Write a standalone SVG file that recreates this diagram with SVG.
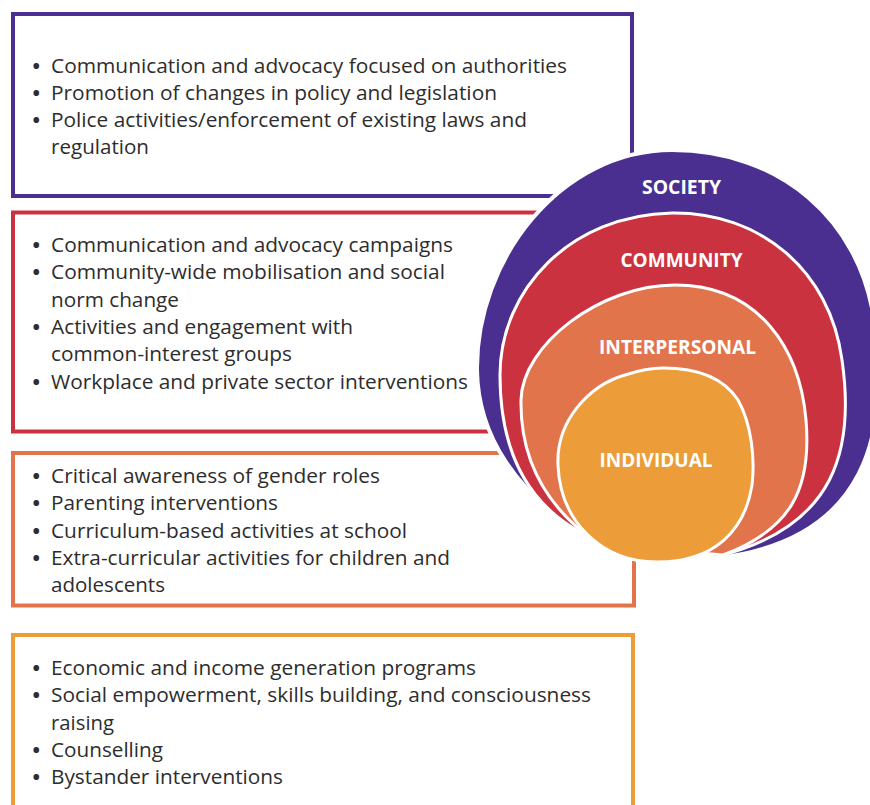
<svg xmlns="http://www.w3.org/2000/svg" width="870" height="805" viewBox="0 0 870 805">
  <style>
    .box { fill: none; stroke-width: 4; }
    .item { font-family: "Open Sans", "Noto Sans", "Liberation Sans", sans-serif; font-size: 20px; fill: #2d2d2d; }
    .dot { font-weight: 700; }
    .lvl { font-family: "Open Sans", "Noto Sans", "Liberation Sans", sans-serif; font-size: 19px; font-weight: 700; fill: #ffffff; text-anchor: middle; }
    .ring { stroke: #ffffff; stroke-width: 3; stroke-linejoin: round; }
  </style>
  <rect width="870" height="805" fill="#ffffff"/>

  <!-- intervention boxes -->
  <g id="box-society">
    <rect class="box" x="13" y="14" width="619" height="182" stroke="#4a2f91"/>
    <text class="item" y="73"><tspan class="dot" x="32.5">•</tspan><tspan x="51" textLength="516" lengthAdjust="spacingAndGlyphs">Communication and advocacy focused on authorities</tspan></text>
    <text class="item" y="100"><tspan class="dot" x="32.5">•</tspan><tspan x="51" textLength="446" lengthAdjust="spacingAndGlyphs">Promotion of changes in policy and legislation</tspan></text>
    <text class="item" y="127"><tspan class="dot" x="32.5">•</tspan><tspan x="51" textLength="476" lengthAdjust="spacingAndGlyphs">Police activities/enforcement of existing laws and</tspan><tspan x="51" y="154" textLength="98" lengthAdjust="spacingAndGlyphs">regulation</tspan></text>
  </g>

  <g id="box-community">
    <rect class="box" x="13" y="212.5" width="619" height="219" stroke="#ca3240"/>
    <text class="item" y="252"><tspan class="dot" x="32.5">•</tspan><tspan x="51" textLength="402" lengthAdjust="spacingAndGlyphs">Communication and advocacy campaigns</tspan></text>
    <text class="item" y="279"><tspan class="dot" x="32.5">•</tspan><tspan x="51" textLength="394" lengthAdjust="spacingAndGlyphs">Community-wide mobilisation and social</tspan><tspan x="51" y="307" textLength="128" lengthAdjust="spacingAndGlyphs">norm change</tspan></text>
    <text class="item" y="334"><tspan class="dot" x="32.5">•</tspan><tspan x="51" textLength="302" lengthAdjust="spacingAndGlyphs">Activities and engagement with</tspan><tspan x="51" y="361" textLength="241" lengthAdjust="spacingAndGlyphs">common-interest groups</tspan></text>
    <text class="item" y="389"><tspan class="dot" x="32.5">•</tspan><tspan x="51" textLength="417" lengthAdjust="spacingAndGlyphs">Workplace and private sector interventions</tspan></text>
  </g>

  <g id="box-interpersonal">
    <rect class="box" x="13" y="453" width="621" height="152.5" stroke="#e2744b"/>
    <text class="item" y="483"><tspan class="dot" x="32.5">•</tspan><tspan x="51" textLength="329" lengthAdjust="spacingAndGlyphs">Critical awareness of gender roles</tspan></text>
    <text class="item" y="510"><tspan class="dot" x="32.5">•</tspan><tspan x="51" textLength="227" lengthAdjust="spacingAndGlyphs">Parenting interventions</tspan></text>
    <text class="item" y="538"><tspan class="dot" x="32.5">•</tspan><tspan x="51" textLength="356" lengthAdjust="spacingAndGlyphs">Curriculum-based activities at school</tspan></text>
    <text class="item" y="565"><tspan class="dot" x="32.5">•</tspan><tspan x="51" textLength="399" lengthAdjust="spacingAndGlyphs">Extra-curricular activities for children and</tspan><tspan x="51" y="592" textLength="114" lengthAdjust="spacingAndGlyphs">adolescents</tspan></text>
  </g>

  <g id="box-individual">
    <rect class="box" x="13" y="635" width="620" height="200" stroke="#ec9c39"/>
    <text class="item" y="675"><tspan class="dot" x="32.5">•</tspan><tspan x="51" textLength="425" lengthAdjust="spacingAndGlyphs">Economic and income generation programs</tspan></text>
    <text class="item" y="702"><tspan class="dot" x="32.5">•</tspan><tspan x="51" textLength="540" lengthAdjust="spacingAndGlyphs">Social empowerment, skills building, and consciousness</tspan><tspan x="51" y="730" textLength="63" lengthAdjust="spacingAndGlyphs">raising</tspan></text>
    <text class="item" y="757"><tspan class="dot" x="32.5">•</tspan><tspan x="51" textLength="112" lengthAdjust="spacingAndGlyphs">Counselling</tspan></text>
    <text class="item" y="784"><tspan class="dot" x="32.5">•</tspan><tspan x="51" textLength="232" lengthAdjust="spacingAndGlyphs">Bystander interventions</tspan></text>
  </g>

  <!-- nested levels of the ecological model -->
  <g id="level-society">
    <path d="M 572,529 C 520,490 478,440 477,370 C 476,260 560,150 672,150 C 780,150 860,220 874,320 C 890,430 870,540 717,558 Q 650,545 572,529 Z" fill="#4a2f91" stroke="#ffffff" stroke-width="4"/>
    <text class="lvl" x="681.5" y="194" textLength="79" lengthAdjust="spacingAndGlyphs">SOCIETY</text>
  </g>
  <g id="level-community">
    <path class="ring" d="M 582,533 C 520,500 500,440 500,375 C 500,290 570,215 672,213 C 760,212 830,270 842,360 C 855,450 835,525 723,555 Q 650,535 582,533 Z" fill="#ca3240"/>
    <text class="lvl" x="681.5" y="266.5" textLength="122" lengthAdjust="spacingAndGlyphs">COMMUNITY</text>
  </g>
  <g id="level-interpersonal">
    <path class="ring" d="M 593,540 C 545,505 520,460 521,400 C 522,345 600,285 675,285 C 760,285 800,350 806,420 C 812,490 790,530 723,555 Q 660,550 593,540 Z" fill="#e2744b"/>
    <text class="lvl" x="677.5" y="353.5" textLength="157" lengthAdjust="spacingAndGlyphs">INTERPERSONAL</text>
  </g>
  <g id="level-individual">
    <path class="ring" d="M 663,368 C 700,368 725,380 738,400 C 752,425 755,460 752,485 C 745,530 715,562 657,562 C 600,562 560,520 558,465 C 556,420 590,385 625,375 C 640,370 650,368 663,368 Z" fill="#ec9c39"/>
    <text class="lvl" x="656" y="466.5" textLength="113" lengthAdjust="spacingAndGlyphs">INDIVIDUAL</text>
  </g>

  <g id="connectors"></g>
</svg>
